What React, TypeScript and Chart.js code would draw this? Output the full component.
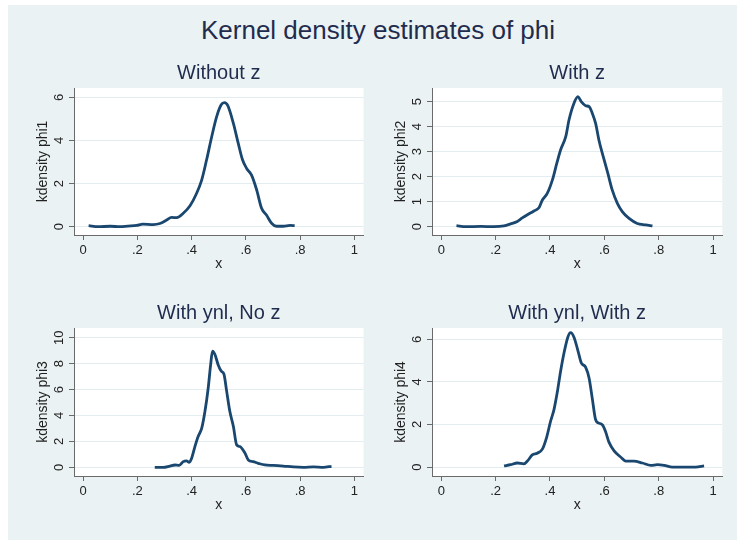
import { useEffect, useRef } from "react";
import { Chart, registerables } from "chart.js";

Chart.register(...registerables);

const FONT = '"Liberation Sans", Arial, Helvetica, sans-serif';
const LINE = "#1a476f";
const HEAD = "#1f2c4e";
const LABEL = "#222222";
const BG = "#eaf2f3";
const GRID = "#e3ecee";
const AXIS = "#6a6a6a";

const mainTitle = "Kernel density estimates of phi";

const xTickValues = [0, 0.2, 0.4, 0.6, 0.8, 1];
const xTickLabels = ["0", ".2", ".4", ".6", ".8", "1"];

// Without z
const phi1X = [0.02, 0.055, 0.1, 0.135, 0.165, 0.197, 0.22, 0.258, 0.283, 0.308, 0.326, 0.345, 0.369, 0.394, 0.418, 0.437, 0.455, 0.474, 0.492, 0.509, 0.521, 0.533, 0.554, 0.572, 0.588, 0.603, 0.621, 0.64, 0.658, 0.676, 0.695, 0.713, 0.738, 0.763, 0.78];
const phi1Y = [0.05, 0.0, 0.02, 0.0, 0.03, 0.06, 0.12, 0.1, 0.15, 0.31, 0.43, 0.42, 0.62, 0.97, 1.54, 2.16, 3.09, 4.17, 5.09, 5.65, 5.75, 5.62, 4.79, 3.86, 3.09, 2.7, 2.39, 1.7, 0.85, 0.54, 0.16, 0.02, 0.02, 0.06, 0.05];

// With z
const phi2X = [0.056, 0.09, 0.145, 0.194, 0.231, 0.255, 0.28, 0.298, 0.317, 0.341, 0.36, 0.372, 0.39, 0.409, 0.425, 0.439, 0.458, 0.47, 0.488, 0.503, 0.515, 0.531, 0.544, 0.556, 0.568, 0.58, 0.596, 0.613, 0.629, 0.648, 0.666, 0.691, 0.721, 0.752, 0.777];
const phi2Y = [0.04, 0.0, 0.01, 0.0, 0.03, 0.11, 0.21, 0.35, 0.48, 0.63, 0.77, 1.07, 1.33, 1.87, 2.53, 3.07, 3.6, 4.27, 4.93, 5.2, 5.0, 4.84, 4.8, 4.53, 4.13, 3.47, 2.8, 2.13, 1.47, 0.93, 0.6, 0.33, 0.13, 0.07, 0.03];

// With ynl, No z
const phi3X = [0.264, 0.295, 0.32, 0.338, 0.354, 0.369, 0.381, 0.391, 0.4, 0.412, 0.424, 0.437, 0.449, 0.461, 0.47, 0.477, 0.486, 0.498, 0.51, 0.519, 0.529, 0.541, 0.554, 0.566, 0.578, 0.597, 0.609, 0.627, 0.646, 0.67, 0.701, 0.738, 0.775, 0.812, 0.849, 0.886, 0.916];
const phi3Y = [0.0, 0.0, 0.1, 0.18, 0.15, 0.44, 0.49, 0.39, 0.7, 1.6, 2.38, 3.0, 4.3, 6.1, 7.9, 8.97, 8.7, 7.9, 7.4, 7.2, 5.9, 4.3, 3.15, 1.73, 1.6, 1.09, 0.57, 0.44, 0.31, 0.18, 0.15, 0.1, 0.03, 0.0, 0.03, 0.0, 0.08];

// With ynl, With z
const phi4X = [0.231, 0.255, 0.28, 0.304, 0.317, 0.335, 0.353, 0.372, 0.388, 0.402, 0.415, 0.427, 0.439, 0.452, 0.466, 0.476, 0.488, 0.503, 0.515, 0.531, 0.544, 0.556, 0.568, 0.58, 0.593, 0.605, 0.617, 0.636, 0.66, 0.679, 0.709, 0.74, 0.771, 0.795, 0.82, 0.85, 0.893, 0.936, 0.967];
const phi4Y = [0.05, 0.11, 0.19, 0.15, 0.28, 0.57, 0.65, 0.84, 1.41, 2.14, 2.71, 3.52, 4.49, 5.38, 6.11, 6.31, 6.11, 5.46, 4.9, 4.69, 4.17, 3.19, 2.22, 2.06, 1.98, 1.65, 1.17, 0.76, 0.47, 0.28, 0.28, 0.19, 0.08, 0.11, 0.08, 0.0, 0.0, 0.0, 0.06];

const phi1Ticks = [0, 2, 4, 6];
const phi2Ticks = [0, 1, 2, 3, 4, 5];
const phi3Ticks = [0, 2, 4, 6, 8, 10];
const phi4Ticks = [0, 2, 4, 6];

type Panel = {
  title: string;
  yTitle: string;
  xs: number[];
  ys: number[];
  yTicks: number[];
  yMin: number;
  yMax: number;
  left: number;
  top: number;
  height: number;
  padRight: number;
};

const panels: Panel[] = [
  { title: "Without z", yTitle: "kdensity phi1", xs: phi1X, ys: phi1Y, yTicks: phi1Ticks, yMin: -0.385, yMax: 6.43, left: 10, top: 55, height: 230, padRight: 10.5 },
  { title: "With z", yTitle: "kdensity phi2", xs: phi2X, ys: phi2Y, yTicks: phi2Ticks, yMin: -0.332, yMax: 5.548, left: 367.7, top: 55, height: 230, padRight: 9.7 },
  { title: "With ynl, No z", yTitle: "kdensity phi3", xs: phi3X, ys: phi3Y, yTicks: phi3Ticks, yMin: -0.67, yMax: 10.75, left: 10, top: 295, height: 231, padRight: 10.5 },
  { title: "With ynl, With z", yTitle: "kdensity phi4", xs: phi4X, ys: phi4Y, yTicks: phi4Ticks, yMin: -0.42, yMax: 6.53, left: 367.7, top: 295, height: 231, padRight: 9.7 },
];

const CANVAS_W = 364;
const Y_AXIS_W = 64;
const X_AXIS_H = 50;
const TICK_SIZE = 13;

// white plot region behind the grid and curve
const plotFill = {
  id: "plotFill",
  beforeDraw(chart: any) {
    const { ctx, chartArea: a } = chart;
    ctx.save();
    ctx.fillStyle = "#ffffff";
    ctx.fillRect(a.left, a.top, a.right - a.left, a.bottom - a.top);
    ctx.restore();
  },
};

function widestLabel(labels: string[]): number {
  const c = document.createElement("canvas").getContext("2d")!;
  c.font = `${TICK_SIZE}px ${FONT}`;
  return Math.max(...labels.map((l) => c.measureText(l).width));
}

function DensityPanel({ p }: { p: Panel }) {
  const ref = useRef<HTMLCanvasElement | null>(null);

  useEffect(() => {
    if (!ref.current) return;
    const yLabels = p.yTicks.map((v) => String(v));
    const yPad = Math.max(0, 10 - widestLabel(yLabels) / 2);
    const chart = new Chart(ref.current, {
      type: "line",
      data: {
        datasets: [
          {
            data: p.xs.map((x, i) => ({ x, y: p.ys[i] })),
            borderColor: LINE,
            borderWidth: 2.8,
            pointRadius: 0,
            fill: false,
            cubicInterpolationMode: "monotone",
          },
        ],
      },
      options: {
        animation: false,
        responsive: false,
        events: [],
        layout: { padding: { left: 0, top: 0, right: p.padRight, bottom: 0 } },
        plugins: {
          legend: { display: false },
          tooltip: { enabled: false },
          title: {
            display: true,
            fullSize: false,
            text: p.title,
            color: HEAD,
            font: { family: FONT, size: 20, weight: "normal" },
            padding: { top: 6.8, bottom: 2.2 },
          },
        },
        scales: {
          x: {
            type: "linear",
            min: -0.034,
            max: 1.034,
            afterBuildTicks: (s: any) => {
              s.ticks = xTickValues.map((v) => ({ value: v }));
            },
            afterFit: (s: any) => {
              s.height = X_AXIS_H;
            },
            ticks: {
              autoSkip: false,
              maxRotation: 0,
              padding: 2.2,
              color: LABEL,
              font: { family: FONT, size: TICK_SIZE },
              callback: (_v: any, i: number) => xTickLabels[i],
            },
            grid: { drawOnChartArea: false, drawTicks: true, tickLength: 5, color: AXIS },
            border: { display: true, color: AXIS, width: 1 },
            title: {
              display: true,
              text: "x",
              color: LABEL,
              font: { family: FONT, size: 14 },
              padding: { top: 0, bottom: 12.1 },
            },
          },
          y: {
            type: "linear",
            min: p.yMin,
            max: p.yMax,
            afterBuildTicks: (s: any) => {
              s.ticks = p.yTicks.map((v) => ({ value: v }));
            },
            afterFit: (s: any) => {
              s.width = Y_AXIS_W;
            },
            ticks: {
              autoSkip: false,
              minRotation: 90,
              maxRotation: 90,
              crossAlign: "center",
              padding: yPad,
              color: LABEL,
              font: { family: FONT, size: TICK_SIZE },
              callback: (v: any) => String(v),
            },
            grid: { color: GRID, lineWidth: 1, drawTicks: true, tickLength: 5, tickColor: AXIS },
            border: { display: true, color: AXIS, width: 1 },
            title: {
              display: true,
              text: p.yTitle,
              color: LABEL,
              font: { family: FONT, size: 14 },
              padding: { top: 24.6, bottom: 0 },
            },
          },
        },
      } as any,
      plugins: [plotFill],
    });
    return () => chart.destroy();
  }, [p]);

  return (
    <canvas
      ref={ref}
      width={CANVAS_W}
      height={p.height}
      style={{ position: "absolute", left: p.left, top: p.top, width: CANVAS_W, height: p.height }}
    />
  );
}

export default function App() {
  return (
    <div style={{ position: "absolute", left: 0, top: 0, width: 737, height: 540, background: "#ffffff", overflow: "hidden" }}>
      <div style={{ position: "absolute", left: 8, top: 5, right: 0, bottom: 0, background: BG }} />
      <div
        style={{
          position: "absolute",
          left: 378,
          top: 17,
          transform: "translateX(-50%)",
          whiteSpace: "nowrap",
          fontFamily: FONT,
          fontSize: 26,
          lineHeight: "26px",
          color: HEAD,
        }}
      >
        {mainTitle}
      </div>
      {panels.map((p) => (
        <DensityPanel key={p.yTitle} p={p} />
      ))}
    </div>
  );
}
